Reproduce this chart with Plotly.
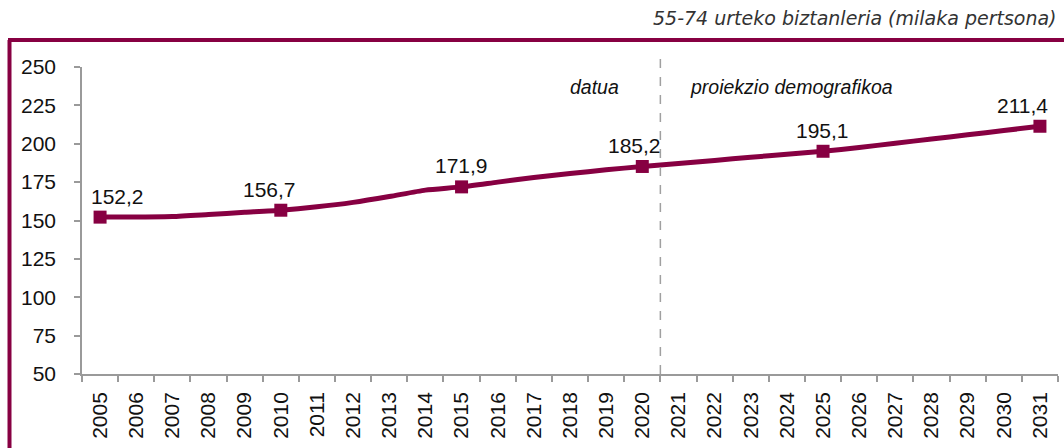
import plotly.graph_objects as go

years = [str(y) for y in range(2005, 2032)]
values = [152.2, 152.3, 152.6, 153.9, 155.3, 156.7, 158.9, 161.8, 165.6, 169.8,
          171.9, 175.0, 178.0, 180.6, 183.0, 185.2, 187.1, 189.1, 191.2, 193.1,
          195.1, 197.6, 200.3, 203.1, 205.8, 208.6, 211.4]
labeled_years = ["2005", "2010", "2015", "2020", "2025", "2031"]
label_text = ["152,2", "156,7", "171,9", "185,2", "195,1", "211,4"]
y_ticks = [50, 75, 100, 125, 150, 175, 200, 225, 250]
title = "55-74 urteko biztanleria (milaka pertsona)"
left_note = "datua"
right_note = "proiekzio demografikoa"

W, H = 1064, 448
ML, MR, MT, MB = 82, 6, 67, 74
PW, PH = W - ML - MR, H - MT - MB
LINE = "#870042"
AXIS = "#9a9a9a"
FONT = "Liberation Sans, Arial"

def px_x(px):
    return (px - ML) / PW

def px_y(py):
    return (H - MB - py) / PH

lab_idx = [years.index(y) for y in labeled_years]
lab_vals = [values[i] for i in lab_idx]

fig = go.Figure()
fig.add_trace(go.Scatter(
    x=years, y=values, mode="lines",
    line=dict(color=LINE, width=5, shape="spline", smoothing=0.6),
    hoverinfo="skip", showlegend=False))
fig.add_trace(go.Scatter(
    x=labeled_years, y=lab_vals, mode="markers",
    marker=dict(symbol="square", size=13, color=LINE),
    showlegend=False))

xshifts = [17, -11, 0, -8, -1, -17]
for i, v, t, dx in zip(lab_idx, lab_vals, label_text, xshifts):
    fig.add_annotation(x=i, y=v, xref="x", yref="y", text=t, showarrow=False,
                       xshift=dx, yshift=21,
                       font=dict(family=FONT, size=21, color="#111"))

split = years.index("2020") + 0.5
fig.add_shape(type="line", xref="x", yref="paper", x0=split, x1=split,
              y0=0, y1=px_y(50), line=dict(color="#a0a0a0", width=1.5, dash="dash"))

for px, txt in [(594, left_note), (791, right_note)]:
    fig.add_annotation(x=px_x(px), y=px_y(87), xref="paper", yref="paper",
                       text="<i>" + txt + "</i>", showarrow=False,
                       font=dict(family=FONT, size=19.5, color="#111"),
                       xanchor="center", yanchor="middle")

fig.add_annotation(x=px_x(1059), y=px_y(18), xref="paper", yref="paper",
                   text="<i>" + title + "</i>", showarrow=False,
                   xanchor="right", yanchor="middle",
                   font=dict(family="DejaVu Sans", size=19, color="#333"))

# frame lines
fig.add_shape(type="line", xref="paper", yref="paper", x0=px_x(8), x1=px_x(1064),
              y0=px_y(40), y1=px_y(40), line=dict(color=LINE, width=4))
fig.add_shape(type="line", xref="paper", yref="paper", x0=px_x(9.5), x1=px_x(9.5),
              y0=px_y(40), y1=px_y(450), line=dict(color=LINE, width=4))

fig.update_layout(
    width=W, height=H, margin=dict(l=ML, r=MR, t=MT, b=MB),
    paper_bgcolor="white", plot_bgcolor="white",
    font=dict(family=FONT, size=21, color="#111"),
    xaxis=dict(type="category", range=[-0.5, len(years) - 0.5], tickson="boundaries",
               ticks="outside", ticklen=6, tickcolor=AXIS, tickwidth=1.5,
               showline=True, linecolor=AXIS, linewidth=1.5, showgrid=False,
               tickangle=-90, tickfont=dict(size=21), ticklabelstandoff=8),
    yaxis=dict(range=[50, 250], tickvals=y_ticks, ticks="outside", ticklen=6,
               tickcolor=AXIS, tickwidth=1.5, showline=True, linecolor=AXIS, linewidth=1.5,
               showgrid=False, zeroline=False, tickfont=dict(size=21), ticklabelstandoff=14),
)
fig.write_html("out.html")
